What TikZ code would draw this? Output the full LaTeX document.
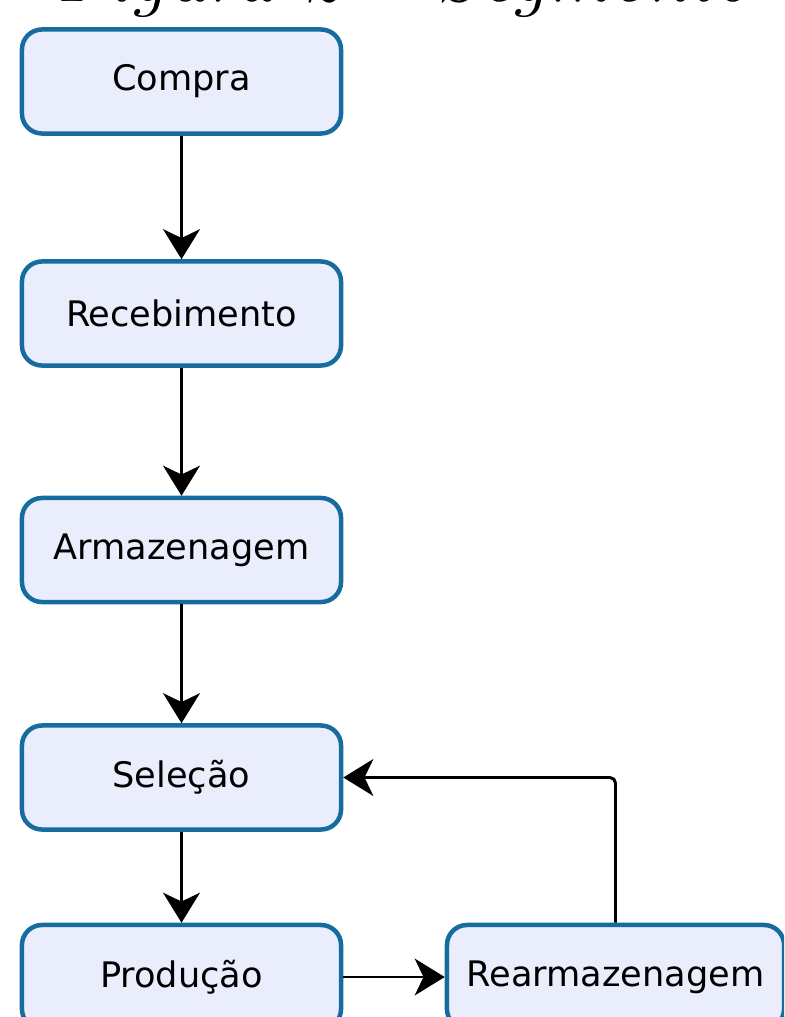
\documentclass[tikz,border=0pt]{standalone}
\usepackage{fontspec}
\usepackage{tikz}
\usetikzlibrary{arrows.meta}
\newfontfamily\etapafont{DejaVu Sans}
\definecolor{etapaborda}{RGB}{22,108,158}
\definecolor{etapafundo}{RGB}{234,238,252}

\begin{document}
\begin{tikzpicture}[x=0.025cm, y=-0.025cm,
    etapa/.style={draw=etapaborda, fill=etapafundo, line width=3.2pt,
      rounded corners=0.5cm, minimum width=7.975cm, minimum height=2.6cm,
      inner sep=0pt, font=\etapafont\fontsize{25}{30}\selectfont},
    seta/.style={line width=2.1pt,
      -{Stealth[length=0.75cm, width=0.92cm, inset=0.22cm]}}]
    \path[use as bounding box] (0,0) rectangle (784,1017);
    \clip (0,0) rectangle (784,1017);
    % titulo cortado no topo
    \node[anchor=base west, inner sep=0pt,
      font=\fontsize{56}{60}\selectfont\itshape] (titulo) at (56,2)
      {Figura 2 -- Segmento};
    \node[etapa] (compra)   at (181.5,81.5) {Compra};
    \node[etapa] (receb)    at (181.5,313.5) {Recebimento};
    \node[etapa] (armaz)    at (181.5,550) {Armazenagem};
    \node[etapa] (selecao)  at (181.5,777.5) {Seleção};
    \node[etapa] (producao) at (181.5,977) {Produção};
    \node[etapa, minimum width=8.425cm] (rearm) at (615.5,977) {Rearmazenagem};
    \draw[seta] (compra) -- (receb);
    \draw[seta] (receb) -- (armaz);
    \draw[seta] (armaz) -- (selecao);
    \draw[seta] (selecao) -- (producao);
    \draw[seta] (producao) -- (rearm);
    \draw[seta, rounded corners=4pt] (rearm.north) |- (selecao.east);
\end{tikzpicture}
\end{document}
